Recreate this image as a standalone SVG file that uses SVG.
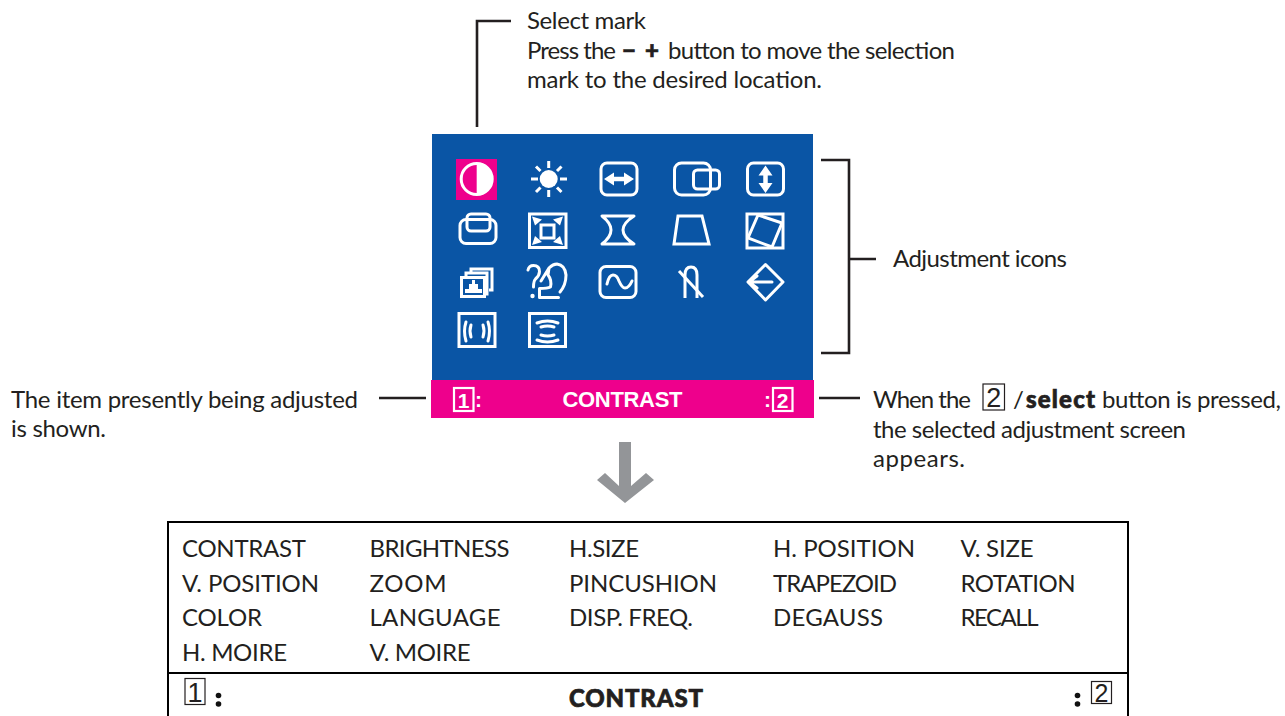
<svg xmlns="http://www.w3.org/2000/svg" width="1285" height="716" viewBox="0 0 1285 716">
<style>
text{font-family:"Lato","Noto Sans",sans-serif;font-size:24px;fill:#231f20}
.b{font-weight:900;stroke:#231f20;stroke-width:.7}
.w{font-family:"Liberation Sans",Arial,sans-serif;font-weight:700;fill:#fff}
.k{font-family:"Liberation Sans",Arial,sans-serif;font-size:27px}
.l{fill:none;stroke:#231f20;stroke-width:2.6}
.i{fill:none;stroke:#fff;stroke-width:3;stroke-linejoin:round;stroke-linecap:round}
.s{fill:none;stroke:#fff;stroke-width:3}
.f{fill:#fff;stroke:none}
.t{fill:none;stroke:#000;stroke-width:2}
.m{fill:none;stroke:#231f20;stroke-width:1.2}
</style>
<g id="screen">
<rect x="432" y="134" width="381" height="247" fill="#0a55a5"/>
<rect x="431" y="380" width="383" height="38" fill="#ee008c"/>
<rect x="454" y="388" width="19.500" height="23" fill="none" stroke="#fff" stroke-width="2.200"/>
<text x="463.700" y="407.500" class="w" text-anchor="middle" style="font-size:21px">1</text>
<text x="475" y="407" class="w" style="font-size:21px">:</text>
<text x="622.500" y="407" class="w" text-anchor="middle" textLength="120" style="font-size:22px">CONTRAST</text>
<text x="764" y="407" class="w" style="font-size:21px">:</text>
<rect x="773" y="388" width="19.500" height="23" fill="none" stroke="#fff" stroke-width="2.200"/>
<text x="782.700" y="407.500" class="w" text-anchor="middle" style="font-size:21px">2</text>
</g>
<g id="icon-contrast">
<rect x="456" y="159" width="41" height="41" fill="#ee008c"/>
<circle cx="476.700" cy="179" r="15.500" class="i"/>
<path d="M476.700 163.500a15.500 15.500 0 0 1 0 31z" class="f"/>
</g>
<g id="icon-brightness">
<circle cx="548.700" cy="179" r="9" class="f"/>
<path d="M548.700 161v7M548.700 190v7M531 179h7M560 179h7M536 166.500l4.500 4.500M557 187.500l4.500 4.500M561.500 166.500l-4.500 4.500M540.500 187.500l-4.500 4.500" class="s"/>
</g>
<g id="icon-hsize">
<rect x="601" y="163" width="36" height="32" rx="6" class="i"/>
<path d="M604 179l10-6.500v13zM634 179l-10-6.500v13z" class="f"/><path d="M612 179h14" fill="none" stroke="#fff" stroke-width="4.500"/>
</g>
<g id="icon-hposition">
<rect x="674.500" y="163" width="36" height="32" rx="7" class="i"/>
<rect x="693.500" y="170" width="26" height="19" rx="4" class="i"/>
</g>
<g id="icon-vsize">
<rect x="747.500" y="163" width="36" height="32" rx="6" class="i"/>
<path d="M765.500 165.500l-7 10h14zM765.500 193l-7-10h14z" class="f"/><path d="M765.500 174v10" fill="none" stroke="#fff" stroke-width="4.500"/>
</g>
<g id="icon-vposition">
<rect x="460" y="219.500" width="36" height="24" rx="6" class="i"/>
<rect x="467" y="214" width="23" height="17" rx="4" class="i"/>
</g>
<g id="icon-zoom">
<rect x="529.500" y="214" width="36.500" height="33.500" class="s"/>
<rect x="541" y="225" width="13" height="13" class="s"/>
<path d="M532 216.500l10 3-7 6zM563 216.500l-10 3 7 6zM532 245l10-3-7-6zM563 245l-10-3 7-6z" class="f"/>
</g>
<g id="icon-pincushion">
<path d="M602 216H634Q612 230 634 244H602Q620 230 602 216z" class="i"/>
</g>
<g id="icon-trapezoid">
<path d="M678 216h24l7 28h-35z" class="s"/>
</g>
<g id="icon-rotation">
<rect x="747" y="214" width="36" height="34" class="s"/>
<path d="M758 215l24 8-10 24-24-9z" class="s"/>
</g>
<g id="icon-color">
<path d="M471 272v-3h21v21h-3M466 276v-3h21v21h-3" class="s"/>
<rect x="461.500" y="277.500" width="23" height="19" class="s"/>
<path d="M465 293v-4h4v-5h3v-4h3v4h3v5h4v4z" class="f"/>
</g>
<g id="icon-language">
<path d="M528 270q1-4.500 5.500-4.500q6 0 6 6q0 4-4 7.500q-2 2-2 8" class="i"/>
<circle cx="532.500" cy="296" r="2.200" class="f"/>
<path d="M541 281l8-13q4-4 8-4q8 1 9 11q0 10-6 17M549 268l-1 7M548 275q4 5 2.500 12q-3 1.500-11 1.500v9h19" class="i"/>
</g>
<g id="icon-frequency">
<rect x="600" y="266.500" width="36" height="31" rx="6" class="i"/>
<path d="M607 284q2-9 6-9q4 0 6 6q3 7 6 7q4 0 7-7" class="i"/>
</g>
<g id="icon-degauss">
<path d="M679 271l24 26" class="s"/>
<path d="M685 298v-23q0-8 6-8q6 0 6 8v23" class="s"/>
</g>
<g id="icon-recall">
<path d="M765.500 264.500l17.500 17.500-17.500 18-17.500-18z" class="i"/>
<path d="M749 282h23M757 276l-8 6 8 6" class="i"/>
</g>
<g id="icon-hmoire">
<rect x="459" y="313.500" width="36" height="33" class="s"/>
<path d="M466 322q-3 9 0 19M471 325q-2 6 0 12M488 322q3 9 0 19M483 325q2 6 0 12" class="i"/>
</g>
<g id="icon-vmoire">
<rect x="529.500" y="313.500" width="36" height="33" class="s"/>
<path d="M537 323q10.500-4 21 0M541 327q6.500-2 13 0M537 340q10.500 4 21 0M541 335q6.500 2 13 0" class="i"/>
</g>
<g id="connectors">
<path d="M477 127V21h34" class="l"/>
<path d="M821 160h28v193h-28M850 259h26" class="l"/>
<path d="M379 398h47M819 398h41" class="l"/>
<path d="M619 442h12v44l15-13 8 7-29 23-28-23 8-7 14 13z" fill="#939598"/>
</g>
<g id="label-select-mark">
<text x="527" y="29" textLength="119">Select mark</text>
<text x="527" y="59" textLength="89">Press the</text>
<text x="622" y="59" class="b" textLength="37">− +</text>
<text x="668" y="59" textLength="287">button to move the selection</text>
<text x="527" y="88" textLength="295">mark to the desired location.</text>
</g>
<g id="label-adjustment-icons"><text x="893" y="267" textLength="174">Adjustment icons</text></g>
<g id="label-item">
<text x="11" y="408" textLength="347">The item presently being adjusted</text>
<text x="11" y="437" textLength="95">is shown.</text>
</g>
<g id="label-when">
<text x="873" y="408" textLength="98">When the</text>
<rect x="983" y="384" width="21.500" height="26" class="m"/>
<text x="993.700" y="407" class="k" text-anchor="middle">2</text>
<text x="1013" y="408" textLength="10">/</text>
<text x="1026" y="408" class="b" textLength="69">select</text>
<text x="1102" y="408" textLength="179">button is pressed,</text>
<text x="873" y="438" textLength="313">the selected adjustment screen</text>
<text x="873" y="467" textLength="92">appears.</text>
</g>
<g id="table">
<rect x="168" y="522" width="960" height="210" class="t"/>
<path d="M168 673h960" class="t"/>
<text x="182" y="557" textLength="124">CONTRAST</text>
<text x="369.500" y="557" textLength="140">BRIGHTNESS</text>
<text x="569" y="557" textLength="70">H.SIZE</text>
<text x="773" y="557" textLength="142">H. POSITION</text>
<text x="960.500" y="557" textLength="73">V. SIZE</text>
<text x="182" y="592" textLength="137">V. POSITION</text>
<text x="369.500" y="592" textLength="77">ZOOM</text>
<text x="569" y="592" textLength="148">PINCUSHION</text>
<text x="773" y="592" textLength="124">TRAPEZOID</text>
<text x="960.500" y="592" textLength="115">ROTATION</text>
<text x="182" y="626" textLength="80">COLOR</text>
<text x="369.500" y="626" textLength="131">LANGUAGE</text>
<text x="569" y="626" textLength="124">DISP. FREQ.</text>
<text x="773" y="626" textLength="110">DEGAUSS</text>
<text x="960.500" y="626" textLength="78">RECALL</text>
<text x="182" y="661" textLength="105">H. MOIRE</text>
<text x="369.500" y="661" textLength="101">V. MOIRE</text>
<rect x="185" y="678.500" width="20" height="26" class="m"/>
<text x="195" y="702" class="k" text-anchor="middle">1</text>
<circle cx="218.500" cy="695.500" r="2.800" fill="#111"/><circle cx="218.500" cy="704" r="2.800" fill="#111"/>
<text x="569" y="707" class="b" textLength="134">CONTRAST</text>
<circle cx="1077.500" cy="695.500" r="2.800" fill="#111"/><circle cx="1077.500" cy="704" r="2.800" fill="#111"/>
<rect x="1091.500" y="681.500" width="20" height="22" class="m"/>
<text x="1101.500" y="702" class="k" text-anchor="middle" style="font-size:25px">2</text>
</g>
</svg>
